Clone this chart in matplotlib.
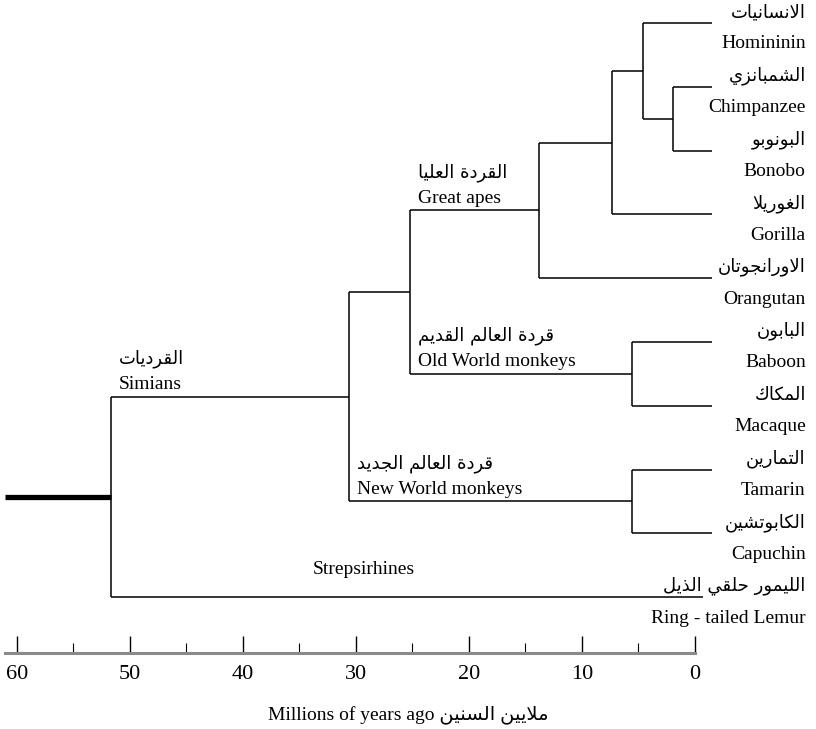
import matplotlib.pyplot as plt
from matplotlib.ticker import FixedLocator

# ── Data ──────────────────────────────────────────────────────────────────────
# tips, top to bottom
tip_en = ['Homininin', 'Chimpanzee', 'Bonobo', 'Gorilla', 'Orangutan',
          'Baboon', 'Macaque', 'Tamarin', 'Capuchin', 'Ring - tailed Lemur']
tip_ar = ['الانسانيات', 'الشمبانزي', 'البونوبو', 'الغوريلا', 'الاورانجوتان',
          'البابون', 'المكاك', 'التمارين', 'الكابوتشين', 'الليمور حلقي الذيل']
tip_end = [-1.5, -1.5, -1.5, -1.5, -1.5, -1.5, -1.5, -1.5, -1.5, -0.7]

# internal nodes (children listed before parents), ages in Myr
node_names = ['Pan', 'Hominini', 'Homininae', 'Hominidae', 'Cercopithecidae',
              'Catarrhini', 'Platyrrhini', 'Simiiformes', 'Primates']
node_ages = [1.95, 4.6, 7.35, 13.8, 5.6, 25.2, 5.6, 30.6, 51.7]
node_children = [[1, 2], [0, 'Pan'], ['Hominini', 3], ['Homininae', 4], [5, 6],
                 ['Hominidae', 'Cercopithecidae'], [7, 8],
                 ['Catarrhini', 'Platyrrhini'], ['Simiiformes', 9]]
root_stem = 61.1

clade_nodes = ['Simiiformes', 'Hominidae', 'Cercopithecidae', 'Platyrrhini']
clade_en = ['Simians', 'Great apes', 'Old World monkeys', 'New World monkeys']
clade_ar = ['القرديات', 'القردة العليا', 'قردة العالم القديم', 'قردة العالم الجديد']

time_ticks = [60, 50, 40, 30, 20, 10, 0]
time_labels = ['60', '50', '40', '30', '20', '10', '0']
minor_ticks = [55, 45, 35, 25, 15, 5]
xlabel_en = 'Millions of years ago'
xlabel_ar = 'ملايين السنين'

# ── Arabic shaping (matplotlib has no bidi / joining) ─────────────────────────
AR_FORMS = {
    'ا': (0xFE8D, 2), 'ب': (0xFE8F, 4), 'ة': (0xFE93, 2), 'ت': (0xFE95, 4),
    'ج': (0xFE9D, 4), 'ح': (0xFEA1, 4), 'د': (0xFEA9, 2), 'ذ': (0xFEAB, 2),
    'ر': (0xFEAD, 2), 'ز': (0xFEAF, 2), 'س': (0xFEB1, 4), 'ش': (0xFEB5, 4),
    'ع': (0xFEC9, 4), 'غ': (0xFECD, 4), 'ق': (0xFED5, 4), 'ك': (0xFED9, 4),
    'ل': (0xFEDD, 4), 'م': (0xFEE1, 4), 'ن': (0xFEE5, 4), 'و': (0xFEED, 2),
    'ي': (0xFEF1, 4),
}


def shape_ar(s):
    out = []
    i = 0
    while i < len(s):
        ch = s[i]
        if ch not in AR_FORMS:
            out.append(ch)
            i += 1
            continue
        prev = s[i - 1] if i > 0 else ''
        joins_prev = prev in AR_FORMS and AR_FORMS[prev][1] == 4
        nxt = s[i + 1] if i + 1 < len(s) else ''
        if ch == 'ل' and nxt == 'ا':
            out.append(chr(0xFEFC if joins_prev else 0xFEFB))
            i += 2
            continue
        base, nforms = AR_FORMS[ch]
        joins_next = nforms == 4 and nxt in AR_FORMS
        if joins_prev and joins_next:
            code = base + 3
        elif joins_prev:
            code = base + 1
        elif joins_next:
            code = base + 2
        else:
            code = base
        out.append(chr(code))
        i += 1
    return ''.join(reversed(out))


SERIF = ['Liberation Serif', 'DejaVu Sans']
ARAB = ['DejaVu Sans']
PX = 1 / 1.389  # pixels -> points at dpi 100

# ── Layout ────────────────────────────────────────────────────────────────────
node_y = {}
parent_age = {}
for name, age, kids in zip(node_names, node_ages, node_children):
    ys = []
    for k in kids:
        ys.append(k if isinstance(k, int) else node_y[k])
        parent_age[k] = age
    node_y[name] = (min(ys) + max(ys)) / 2
node_age = dict(zip(node_names, node_ages))

fig = plt.figure(figsize=(8.16, 7.29), dpi=100)
fig.patch.set_facecolor('white')
ax = fig.add_axes([0, 0, 1, 1])
ax.set_xlim(61.5, -10.71)
ax.set_ylim(11.066, -0.3605)

lw = 1.1
# branches
for name, age, kids in zip(node_names, node_ages, node_children):
    ys = [k if isinstance(k, int) else node_y[k] for k in kids]
    ax.vlines(age, min(ys), max(ys), color='black', lw=lw)
    for k, y in zip(kids, ys):
        end = tip_end[k] if isinstance(k, int) else node_age[k]
        ax.hlines(y, age, end, color='black', lw=lw)

# thick root stem
ax.hlines(node_y['Primates'], root_stem, node_age['Primates'], color='black', lw=3.8)

# tip labels
for i, (en, ar) in enumerate(zip(tip_en, tip_ar)):
    ax.annotate(shape_ar(ar), (-9.8, i), xytext=(0, 11 * PX), textcoords='offset points',
                ha='right', va='center', fontsize=13, family=ARAB)
    ax.annotate(en, (-9.8, i), xytext=(0, -21 * PX), textcoords='offset points',
                ha='right', va='center', fontsize=14, family=SERIF)

# clade labels above their stems
for node, en, ar in zip(clade_nodes, clade_en, clade_ar):
    x0 = parent_age[node]
    y0 = node_y[node]
    ax.annotate(en, (x0, y0), xytext=(8 * PX, 12 * PX), textcoords='offset points',
                ha='left', va='center', fontsize=14, family=SERIF)
    ax.annotate(shape_ar(ar), (x0, y0), xytext=(8 * PX, 38 * PX), textcoords='offset points',
                ha='left', va='center', fontsize=13, family=ARAB)

ax.annotate('Strepsirhines', (29.3, 9), xytext=(0, 28 * PX), textcoords='offset points',
            ha='center', va='center', fontsize=14, family=SERIF)

# ── Time axis ─────────────────────────────────────────────────────────────────
for side in ['top', 'left', 'right']:
    ax.spines[side].set_visible(False)
ax.spines['bottom'].set_position(('data', 9.87))
ax.spines['bottom'].set_bounds(root_stem, 0)
ax.spines['bottom'].set_color('#8a8a8a')
ax.spines['bottom'].set_linewidth(2.2)
ax.set_yticks([])
ax.set_xticks(time_ticks)
ax.set_xticklabels(time_labels, fontsize=16, family=SERIF)
ax.xaxis.set_minor_locator(FixedLocator(minor_ticks))
ax.tick_params(axis='x', which='major', direction='in', length=12, width=1.0,
               color='black', pad=9)
ax.tick_params(axis='x', which='minor', direction='in', length=7, width=0.8,
               color='black')
ax.set_xlabel(xlabel_en + ' ' + shape_ar(xlabel_ar), fontsize=14, family=SERIF,
              labelpad=15)

fig.savefig('out.png', dpi=100, facecolor='white')
